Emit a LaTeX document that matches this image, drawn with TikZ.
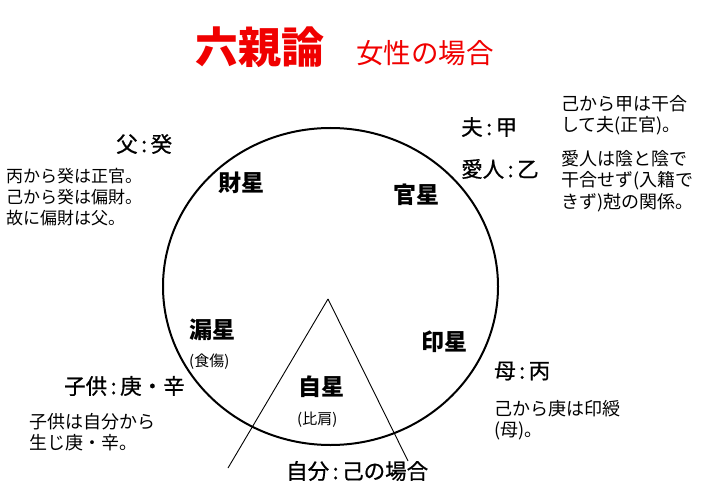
\documentclass[tikz,border=0pt]{standalone}
\usepackage{fontspec}
\usetikzlibrary{shapes.geometric}
\setmainfont{Noto Sans CJK JP}
\newfontfamily\medfont{Noto Sans CJK JP}[FakeBold=0.8]
\newcommand{\cln}{\hspace{3.5pt}:\hspace{3.5pt}}
\definecolor{titlered}{RGB}{240,0,0}
\tikzset{
  lbl/.style={anchor=west, inner sep=0pt},
  titlebig/.style={lbl, text=titlered, font=\fontsize{43}{43}\selectfont\bfseries},
  titlesub/.style={lbl, text=titlered, font=\fontsize{27.5}{27.5}\selectfont},
  star/.style={lbl, font=\fontsize{23}{23}\selectfont\bfseries},
  rel/.style={lbl, font=\medfont\fontsize{21.5}{21.5}\selectfont},
  note/.style={anchor=north west, inner sep=0pt, align=left, font=\fontsize{18}{21.5}\selectfont},
  lnote/.style={note, font=\fontsize{17}{21}\selectfont},
  small/.style={lbl, font=\fontsize{15}{15}\selectfont},
  ring/.style={line width=2pt},
  thin/.style={line width=0.9pt}
}
\begin{document}
\begin{tikzpicture}[x=1pt,y=-1pt]
\useasboundingbox[fill=white] (0,0) rectangle (706,489);
% title
\node[titlebig] (t1) at (195,47) {六親論};
\node[titlesub] (t2) at (356,53) {女性の場合};
% circle
\node[draw, ring, ellipse, minimum width=335pt, minimum height=317pt, inner sep=0pt] (ring) at (330.5,286.5) {};
% triangle lines
\coordinate (apex) at (328,299);
\coordinate (lend) at (228,468);
\coordinate (rend) at (408,461);
\draw[thin] (apex) -- (lend);
\draw[thin] (apex) -- (rend);
% stars
\node[star] (zai) at (218,183) {財星};
\node[star] (kan) at (393,195) {官星};
\node[star] (ro) at (189,330) {漏星};
\node[small] (shoku) at (189,362) {(食傷)};
\node[star] (in) at (421,342) {印星};
\node[star] (ji) at (298,387) {自星};
\node[small] (hiken) at (297,420) {(比肩)};
% relations
\node[rel] (chichi) at (116,144) {父\cln 癸};
\node[rel] (otto) at (461,127) {夫\cln 甲};
\node[rel] (aijin) at (461,169) {愛人\cln 乙};
\node[rel] (haha) at (494,371) {母\cln 丙};
\node[rel] (kodomo) at (64,386) {子供\cln 庚・辛};
\node[rel] (jibun) at (286,471) {自分\cln 己の場合};
% notes
\node[lnote] (n1) at (6,168) {丙から癸は正官。\\己から癸は偏財。\\故に偏財は父。};
\node[note] (n2) at (561,95) {己から甲は干合\\して夫(正官)。};
\node[note] (n3) at (561,150) {愛人は陰と陰で\\干合せず(入籍で\\きず)尅の関係。};
\node[note] (n4) at (494,400) {己から庚は印綬\\(母)。};
\node[note] (n5) at (29,413) {子供は自分から\\生じ庚・辛。};
\end{tikzpicture}
\end{document}
